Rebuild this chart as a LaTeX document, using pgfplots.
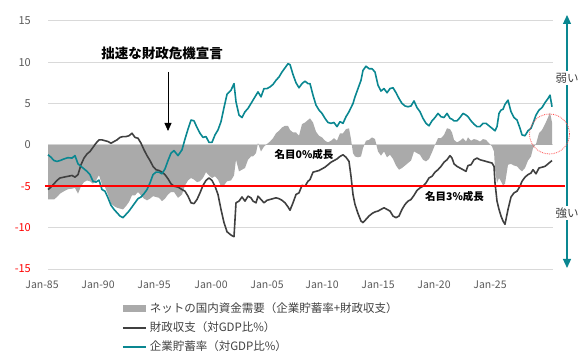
\documentclass[border=0pt]{standalone}
\usepackage{pgfplots}
\pgfplotsset{compat=1.18}
\usepackage{pgfplotstable}
\usepackage{fontspec}
\setmainfont{Noto Sans CJK JP}
\usetikzlibrary{arrows.meta}
\definecolor{tealc}{RGB}{10,135,145}
\definecolor{darkc}{RGB}{64,64,64}
\definecolor{areac}{RGB}{170,170,170}
\definecolor{gridc}{RGB}{217,217,217}
\definecolor{txtc}{RGB}{89,89,89}
\definecolor{redc}{RGB}{255,0,0}

\pgfplotstableread{
x teal dark net
48 -1.2 -5.4 -6.6
51 -1.5 -5.1 -6.6
54 -1.9 -4.7 -6.6
57 -2.0 -4.3 -6.3
60 -1.9 -4.0 -5.9
64 -1.7 -3.9 -5.6
68 -1.55 -3.8 -5.35
72 -1.6 -3.7 -5.3
75 -1.3 -3.9 -5.2
78 -2.3 -3.6 -5.9
81 -2.6 -2.4 -5.0
84 -2.9 -1.6 -4.5
87 -3.2 -1.1 -4.3
90 -3.6 -0.8 -4.4
93 -4.4 -0.3 -4.7
96 -4.5 0.2 -4.3
99 -4.25 0.6 -3.65
102 -5.4 0.6 -4.8
105 -5.6 0.5 -5.1
108 -6.4 0.4 -6.0
111 -7.3 0.2 -7.1
114 -7.8 0.4 -7.4
117 -8.2 0.6 -7.6
120 -8.6 0.9 -7.7
123 -8.8 1.0 -7.8
126 -8.4 1.0 -7.4
129 -8.0 1.1 -6.9
132 -7.5 1.4 -6.1
135 -7.0 0.9 -6.1
138 -6.5 0.8 -5.7
141 -6.3 0.2 -6.1
144 -5.9 -0.6 -6.5
147 -5.4 -1.3 -6.7
150 -4.6 -1.9 -6.5
153 -3.6 -2.6 -6.2
156 -3.3 -3.0 -6.3
159 -3.3 -3.1 -6.4
162 -3.5 -3.3 -6.8
165 -2.9 -3.6 -6.5
168 -1.9 -4.1 -6.0
171 -1.0 -4.7 -5.7
174 -0.7 -5.0 -5.7
178 -1.3 -5.1 -6.4
182 -0.6 -5.4 -6.0
185 0.7 -5.6 -4.9
188 1.9 -6.2 -4.3
191 3.0 -7.0 -4.0
194 2.9 -7.1 -4.2
197 2.1 -6.6 -4.5
200 1.4 -5.8 -4.4
203 0.9 -4.9 -4.0
206 1.0 -4.3 -3.3
209 0.3 -4.0 -3.7
212 0.3 -4.3 -4.0
215 1.2 -5.0 -3.8
218 1.8 -6.0 -4.2
221 2.8 -7.8 -5.0
224 4.5 -9.4 -4.9
227 6.1 -10.5 -4.4
231 6.6 -10.9 -4.3
234 7.4 -11.1 -3.7
236 5.2 -7.0 -1.8
239 3.6 -6.8 -3.2
242 3.3 -6.3 -3.0
245 4.0 -6.8 -2.8
248 4.4 -6.2 -1.8
251 5.0 -6.4 -1.4
253 5.4 -6.8 -1.4
256 6.0 -7.0 -1.0
258 6.4 -6.2 0.2
261 5.8 -6.6 -0.8
264 6.8 -7.0 -0.2
267 6.8 -6.7 0.1
270 7.0 -6.6 0.4
273 7.3 -6.5 0.8
276 7.8 -6.4 1.4
279 8.2 -6.5 1.7
282 8.8 -6.7 2.1
285 9.3 -7.0 2.3
288 9.8 -7.5 2.3
290 9.7 -7.9 1.8
293 8.5 -7.0 1.5
296 7.5 -6.0 1.5
299 6.9 -5.8 1.1
302 7.4 -4.9 2.5
305 7.7 -5.0 2.7
308 7.4 -4.4 3.0
310 7.4 -4.2 3.2
313 6.0 -3.3 2.7
316 4.8 -3.2 1.6
319 4.2 -3.1 1.1
322 3.8 -2.9 0.9
325 3.2 -2.7 0.5
328 2.7 -2.4 0.3
331 2.6 -2.1 0.5
334 2.7 -1.9 0.8
337 2.2 -1.7 0.5
340 2.8 -1.4 1.4
343 2.6 -1.2 1.4
346 3.4 -1.5 1.9
349 4.0 -2.0 2.0
351 4.5 -3.8 0.7
353 5.0 -6.0 -1.0
355 5.8 -7.2 -1.4
358 6.8 -8.3 -1.5
361 7.8 -9.2 -1.4
363 9.0 -9.4 -0.4
366 9.5 -9.0 0.5
369 9.2 -8.6 0.6
372 9.2 -8.3 0.9
375 8.8 -8.1 0.7
378 7.2 -8.0 -0.8
381 6.5 -7.8 -1.3
384 6.8 -7.6 -0.8
387 6.3 -7.8 -1.5
390 6.8 -8.0 -1.2
393 6.9 -8.6 -1.7
396 6.3 -8.8 -2.5
399 5.6 -8.6 -3.0
402 5.0 -7.8 -2.8
405 4.7 -7.2 -2.5
408 4.6 -6.8 -2.2
411 4.7 -6.6 -1.9
414 5.3 -6.1 -0.8
417 4.5 -5.5 -1.0
420 4.0 -5.2 -1.2
423 3.2 -5.0 -1.8
426 2.6 -4.6 -2.0
429 2.3 -4.0 -1.7
432 2.9 -3.8 -0.9
435 3.3 -3.3 0.0
438 3.8 -3.0 0.8
441 3.4 -2.6 0.8
444 3.3 -2.1 1.2
447 3.8 -1.8 2.0
450 3.2 -1.3 1.9
452 3.1 -1.6 1.5
454 2.9 -2.3 0.6
457 2.9 -2.6 0.3
460 3.3 -2.8 0.5
463 3.8 -3.0 0.8
466 3.6 -3.2 0.4
468 3.4 -2.5 0.9
471 2.9 -2.4 0.5
474 2.5 -1.8 0.7
477 2.2 -1.6 0.6
480 2.2 -1.8 0.4
483 2.6 -1.9 0.7
486 2.6 -2.0 0.6
489 2.3 -2.1 0.2
492 2.0 -2.2 -0.2
494 1.8 -2.6 -0.8
495 1.7 -4.6 -2.9
497 2.2 -6.8 -4.6
499 3.8 -7.8 -4.0
501 4.2 -8.6 -4.4
503 4.3 -9.2 -4.9
505 4.9 -9.6 -4.7
508 5.4 -7.8 -2.4
511 4.0 -6.3 -2.3
514 3.3 -5.8 -2.5
517 3.0 -5.6 -2.6
520 2.0 -5.0 -3.0
522 1.2 -4.4 -3.2
525 1.1 -3.9 -2.8
528 1.7 -3.6 -1.9
531 2.0 -3.4 -1.4
533 2.6 -3.0 -0.4
536 3.6 -3.5 0.1
539 4.2 -2.8 1.4
542 4.5 -2.7 1.8
545 5.1 -2.6 2.5
548 5.6 -2.3 3.3
550 6.0 -2.1 3.9
552 4.6 -1.9 2.7
}\data

\begin{document}
\begin{tikzpicture}[x=1pt,y=1pt]
\path[use as bounding box] (0,0) rectangle (588,355);
\begin{axis}[
  at={(48pt,86pt)}, anchor=south west,
  scale only axis, width=505pt, height=248.3pt,
  xmin=48, xmax=553, ymin=-15, ymax=15,
  clip=false,
  axis line style={draw=none},
  major tick length=0pt,
  ymajorgrids, grid style={draw=gridc, line width=0.8pt},
  ytick={-15,-10,-5,0,5,10,15},
  yticklabels={\textcolor{redc}{-15},\textcolor{redc}{-10},\textcolor{redc}{-5},0,5,10,15},
  yticklabel style={anchor=east, inner sep=0pt, xshift=-17pt, font=\fontsize{11}{13}\selectfont, text=txtc},
  xtick={48,104,160,217,273,328,384,440,496},
  xticklabels={Jan-85,Jan-90,Jan-95,Jan-00,Jan-05,Jan-10,Jan-15,Jan-20,Jan-25},
  xticklabel style={anchor=center, inner sep=0pt, xshift=-6pt, yshift=-16pt, font=\fontsize{10.5}{12}\selectfont, text=txtc},
  legend style={at={(0.1465,-0.133)}, anchor=north west, draw=none, fill=none,
    font=\fontsize{11.5}{13}\selectfont, text=darkc, inner sep=0pt, row sep=6pt, column sep=3pt,
    nodes={inner sep=0pt, text height=10pt, text depth=3pt}},
  legend cell align=left,
]
\addplot[fill=areac, draw=none,
  legend image code/.code={\fill[areac] (0pt,-3.5pt) rectangle (23pt,3.5pt);}]
  table[x=x,y=net]{\data} \closedcycle;
\addlegendentry{ネットの国内資金需要（企業貯蓄率+財政収支）}
\addplot[darkc, line width=1.6pt, line join=round,
  legend image code/.code={\draw[darkc, line width=1.6pt] (0pt,0pt) -- (23pt,0pt);}]
  table[x=x,y=dark]{\data};
\addlegendentry{財政収支（対GDP比\%）}
\addplot[tealc, line width=1.6pt, line join=round,
  legend image code/.code={\draw[tealc, line width=1.6pt] (0pt,0pt) -- (23pt,0pt);}]
  table[x=x,y=teal]{\data};
\addlegendentry{企業貯蓄率（対GDP比\%）}
\addplot[redc, line width=2pt, forget plot] coordinates {(45,-5) (565,-5)};
\end{axis}
% annotations
\node[font=\fontsize{13.5}{15}\selectfont\bfseries] at (162,302) {拙速な財政危機宣言};
\draw[black, line width=0.8pt, -{Triangle[width=7pt,length=8pt]}] (168,283) -- (168,224);
\node[font=\fontsize{10.5}{12}\selectfont\bfseries] at (304,200) {名目0\%成長};
\node[font=\fontsize{10.5}{12}\selectfont\bfseries] at (454.5,158) {名目3\%成長};
\draw[tealc, line width=1.2pt, {Triangle[width=8pt,length=9pt]}-{Triangle[width=8pt,length=9pt]}] (567,340) -- (567,87);
\node[fill=white, inner sep=2pt, font=\fontsize{11.5}{13}\selectfont, text=darkc] at (567,277) {弱い};
\node[fill=white, inner sep=2pt, font=\fontsize{11.5}{13}\selectfont, text=darkc] at (567,142) {強い};
\draw[red!70, densely dotted, line width=0.8pt] (549.5,221) circle (20);
\end{tikzpicture}
\end{document}
